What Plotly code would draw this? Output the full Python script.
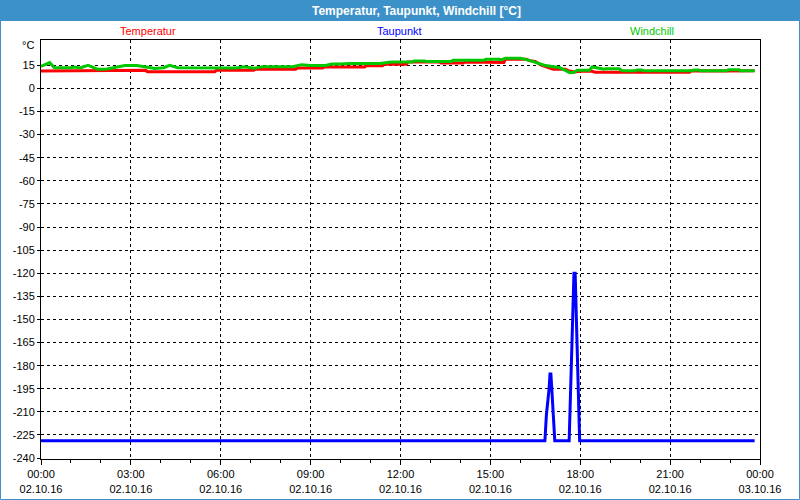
import pandas as pd
import plotly.graph_objects as go

# ---------------- data ----------------
base_day = "2016-10-02 00:00"

temp_hours = [0, 2.0, 2.02, 3.5, 3.55, 5.8, 5.85, 7.1, 7.15, 8.5, 8.55, 9.4, 9.45, 10.8, 10.85,
              11.4, 11.45, 12.2, 12.25, 13.3, 13.35, 14.1, 14.15, 15.0, 15.05, 15.45, 15.5, 16.2,
              16.3, 16.5, 16.7, 17.0, 17.1, 17.5, 17.6, 17.8, 17.95, 18.0, 18.4, 18.5, 21.65,
              21.7, 22.9, 23.3, 23.82]
temp_vals = [11.3, 11.3, 11.7, 11.7, 10.8, 10.8, 11.7, 11.7, 12.4, 12.4, 13.2, 13.2, 13.9, 13.9, 14.7,
             14.7, 15.6, 15.6, 17.1, 17.1, 16.5, 16.5, 17.1, 17.1, 16.8, 16.8, 18.9, 18.9,
             18.0, 17.5, 15.0, 13.2, 12.4, 12.4, 11.5, 10.6, 10.8, 11.1, 11.1, 10.4, 10.4,
             11.4, 11.2, 11.2, 11.4]

dew_hours = [0, 16.82, 16.87, 16.92, 16.96, 16.99, 17.02, 17.05, 17.08, 17.11, 17.15,
             17.63, 17.66, 17.70, 17.73, 17.76, 17.79, 17.83, 17.86, 17.89, 17.92, 17.95, 17.98, 23.82]
dew_vals = [-228.8, -228.8, -212, -204, -195, -185.5, -185.5, -195, -204, -212, -228.8,
            -228.8, -207, -186, -164, -142.7, -120, -120, -142.7, -164, -186, -207, -228.8, -228.8]

chill_hours = [0, 0.15, 0.29, 0.45, 1.0, 1.1, 1.3, 1.57, 1.9, 2.2, 2.57, 2.8, 3.2, 3.5, 3.8, 4.1,
               4.29, 4.57, 5.2, 5.9, 6.5, 6.8, 7.1, 7.4, 8.4, 8.7, 9.0, 9.5, 9.7, 10.0, 10.3, 11.3,
               11.7, 12.4, 12.45, 12.8, 12.85, 13.7, 13.75, 14.8, 14.85, 15.3, 15.35, 15.5, 16.0,
               16.3, 16.6, 16.8, 17.1, 17.3, 17.5, 17.65, 17.8, 17.9, 18.3, 18.4, 18.8, 18.85,
               19.3, 19.4, 19.85, 19.9, 20.05, 20.1, 21.75, 21.8, 21.95, 22.0, 22.9, 22.95,
               23.3, 23.35, 23.82]
chill_vals = [14.3, 15.5, 16.7, 13.4, 13.4, 13.9, 13.2, 15.0, 12.4, 12.6, 14.1, 14.9, 14.9, 13.9, 12.9, 13.4,
              15.0, 13.4, 13.2, 13.0, 13.2, 14.0, 13.0, 14.1, 14.1, 15.4, 14.9, 14.9, 15.8, 15.8, 16.1, 16.1,
              17.1, 17.1, 17.8, 17.8, 17.5, 17.5, 18.2, 18.2, 18.9, 18.9, 18.5, 19.5, 19.5,
              18.2, 16.0, 15.0, 14.1, 13.5, 11.7, 10.2, 10.4, 11.7, 11.7, 13.9, 12.5, 12.8,
              12.8, 11.5, 11.5, 12.0, 12.0, 11.5, 11.5, 12.0, 12.0, 11.5, 11.5, 12.1,
              12.1, 11.5, 11.5]

y_ticks = list(range(-240, 16, 15))
series_names = ["Temperatur", "Taupunkt", "Windchill"]
title_text = "Temperatur, Taupunkt, Windchill [°C]"

# ---------------- figure ----------------
t0 = pd.Timestamp(base_day)
def to_time(h):
    return [t0 + pd.to_timedelta(v, unit="h") for v in h]

RED, BLUE, GREEN = "#ff0000", "#0000ff", "#00c800"
FONT = "Liberation Sans, Arial, sans-serif"

fig = go.Figure()
fig.add_trace(go.Scatter(x=to_time(temp_hours), y=temp_vals, mode="lines",
                         line=dict(color=RED, width=3), name=series_names[0]))
fig.add_trace(go.Scatter(x=to_time(dew_hours), y=dew_vals, mode="lines",
                         line=dict(color=BLUE, width=3), name=series_names[1]))
fig.add_trace(go.Scatter(x=to_time(chill_hours), y=chill_vals, mode="lines",
                         line=dict(color=GREEN, width=3), name=series_names[2]))

W, H = 800, 500
L, R, T, B = 41, 760, 40, 459
def px(x):
    return (x - L) / (R - L)
def py(y):
    return (B - y) / (B - T)

fig.update_layout(
    width=W, height=H,
    margin=dict(l=L, r=W - R, t=T, b=H - B, pad=0),
    paper_bgcolor="#ffffff", plot_bgcolor="#ffffff",
    showlegend=False,
    font=dict(family=FONT, size=11, color="#000000"),
)

fig.update_xaxes(
    type="date",
    automargin=False,
    range=[t0, t0 + pd.Timedelta(hours=24)],
    tickformat="%H:%M<br>%d.%m.%y",
    dtick=3 * 3600 * 1000,
    tick0=t0,
    showline=True, linecolor="#000000", linewidth=1, mirror=True,
    ticks="outside", ticklen=5, tickcolor="#000000",
    showgrid=True, gridcolor="#000000", gridwidth=1, griddash="3px,3px",
    minor=dict(dtick=3600 * 1000, ticks="outside", ticklen=3, tickcolor="#000000", showgrid=False),
    tickfont=dict(size=11, family=FONT),
    zeroline=False,
)
fig.update_yaxes(
    automargin=False,
    range=[-240.6, 31.4],
    tickvals=y_ticks,
    ticktext=[str(v) for v in y_ticks],
    showline=True, linecolor="#000000", linewidth=1, mirror=True,
    ticks="outside", ticklen=3, tickcolor="#000000",
    showgrid=True, gridcolor="#000000", gridwidth=1, griddash="3px,3px",
    tickfont=dict(size=11, family=FONT),
    zeroline=False,
)

# title bar and frame
fig.add_shape(type="rect", xref="paper", yref="paper",
              x0=px(0), x1=px(W), y0=py(21), y1=py(0),
              fillcolor="#3c91c8", line=dict(width=0), layer="below")
fig.add_shape(type="rect", xref="paper", yref="paper",
              x0=px(0.5), x1=px(W - 0.5), y0=py(H - 0.5), y1=py(0.5),
              fillcolor="rgba(0,0,0,0)", line=dict(color="#3c91c8", width=1))

fig.add_annotation(text=title_text, xref="paper", yref="paper", x=px(416), y=py(10.5),
                   xanchor="center", yanchor="middle", showarrow=False,
                   font=dict(family=FONT, size=12, color="#ffffff", weight="bold"))
for name, color, cx in zip(series_names, [RED, BLUE, GREEN], [148, 399, 652]):
    fig.add_annotation(text=name, xref="paper", yref="paper", x=px(cx), y=py(31),
                       xanchor="center", yanchor="middle", showarrow=False,
                       font=dict(family=FONT, size=11, color=color))
fig.add_annotation(text="°C", xref="paper", yref="paper", x=px(36), y=py(45),
                   xanchor="right", yanchor="middle", showarrow=False,
                   font=dict(family=FONT, size=11, color="#000000"))

fig.write_html("out.html")
